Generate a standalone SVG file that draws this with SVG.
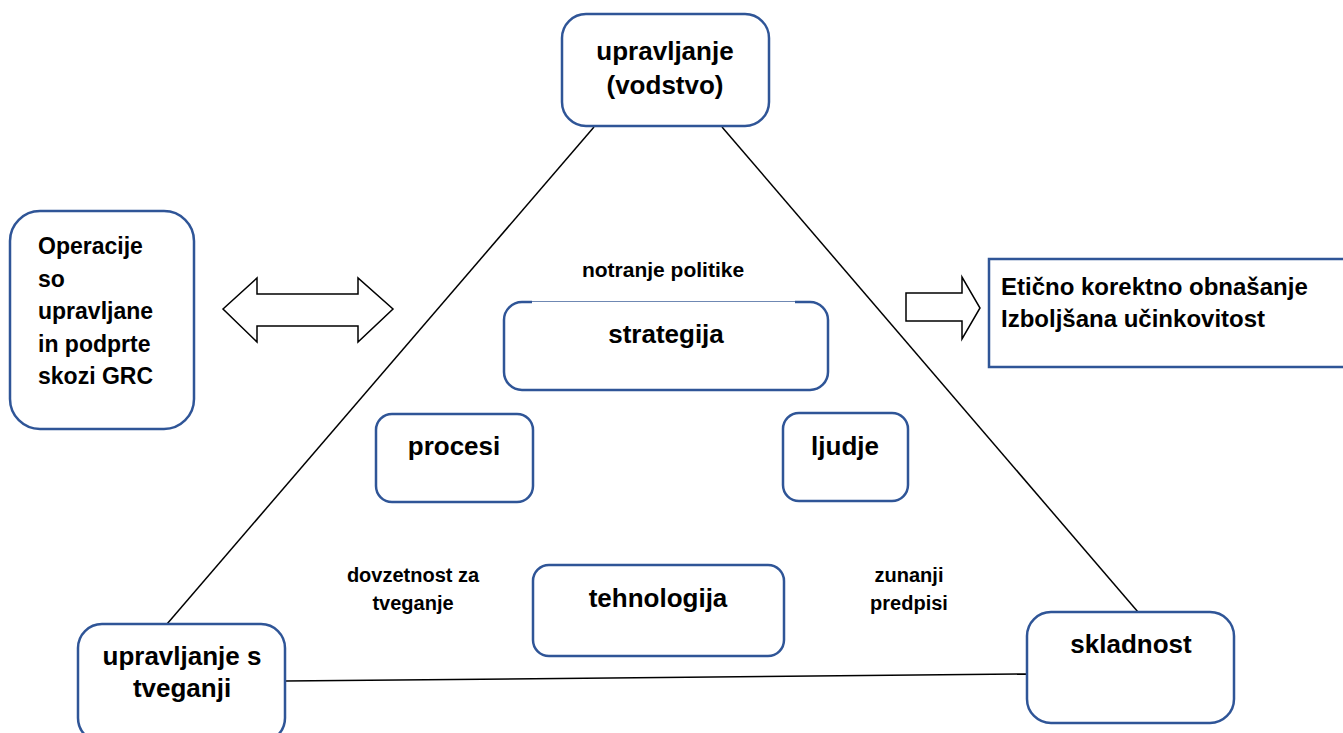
<svg xmlns="http://www.w3.org/2000/svg" width="1343" height="733" viewBox="0 0 1343 733">
<style>
.box{fill:#fff;stroke:#2f5597;stroke-width:2.5}
.ln{stroke:#000;stroke-width:1.5;fill:none}
.arr{fill:#fff;stroke:#000;stroke-width:1.5;stroke-linejoin:miter}
text{font-family:"Liberation Sans",Arial,sans-serif;font-weight:bold;fill:#000}
.n{font-size:26px;text-anchor:middle}
.s{font-size:20px;text-anchor:middle}
.l{font-size:23px}
</style>
<rect width="1343" height="733" fill="#fff"/>
<g id="connectors">
<line class="ln" x1="594" y1="127" x2="167" y2="624"/>
<line class="ln" x1="722" y1="127" x2="1138" y2="612"/>
<line class="ln" x1="285" y1="681" x2="1027" y2="674"/>
<path id="double-arrow" class="arr" d="M223,309 L257,278 L257,294 L358,294 L358,278 L393,309 L358,342 L358,326 L257,326 L257,342 Z"/>
<path id="right-arrow" class="arr" d="M906,293 L962,293 L962,277 L980,308 L962,339 L962,321 L906,321 Z"/>
</g>
<g id="n-upravljanje">
<rect class="box" x="562" y="14" width="207" height="112" rx="24"/>
<text class="n" x="665" y="60">upravljanje</text>
<text class="n" x="665" y="94">(vodstvo)</text>
</g>
<g id="n-operacije">
<rect class="box" x="10" y="211" width="184" height="218" rx="30"/>
<text class="l" x="38" y="254">Operacije</text>
<text class="l" x="38" y="287">so</text>
<text class="l" x="38" y="319">upravljane</text>
<text class="l" x="38" y="352">in podprte</text>
<text class="l" x="38" y="384">skozi GRC</text>
</g>
<g id="n-eticno">
<rect x="989" y="259" width="400" height="108" fill="#fff" stroke="#2f5597" stroke-width="2.5"/>
<text class="l" x="1001" y="295" style="font-size:24px">Etično korektno obnašanje</text>
<text class="l" x="1001" y="327" style="font-size:24px">Izboljšana učinkovitost</text>
</g>
<g id="n-notranje">
<text class="s" x="663" y="277" style="font-size:21px">notranje politike</text>
</g>
<g id="n-strategija">
<rect class="box" x="504" y="302" width="324" height="88" rx="18"/>
<rect x="532" y="299" width="263" height="5" fill="#fff"/>
<line x1="532" y1="301.5" x2="795" y2="301.5" stroke="#6f88b3" stroke-width="1"/>
<text class="n" x="666" y="343">strategija</text>
</g>
<g id="n-procesi">
<rect class="box" x="376" y="414" width="157" height="88" rx="16"/>
<text class="n" x="454" y="455">procesi</text>
</g>
<g id="n-ljudje">
<rect class="box" x="783" y="413" width="125" height="88" rx="16"/>
<text class="n" x="845" y="455">ljudje</text>
</g>
<g id="n-dovzetnost">
<text class="s" x="413" y="582">dovzetnost za</text>
<text class="s" x="413" y="610">tveganje</text>
</g>
<g id="n-tehnologija">
<rect class="box" x="533" y="565" width="251" height="91" rx="16"/>
<text class="n" x="658" y="607">tehnologija</text>
</g>
<g id="n-zunanji">
<text class="s" x="909" y="582">zunanji</text>
<text class="s" x="909" y="610">predpisi</text>
</g>
<g id="n-tveganji">
<rect class="box" x="78" y="624" width="207" height="118" rx="24"/>
<text class="n" x="182" y="665">upravljanje s</text>
<text class="n" x="182" y="697">tveganji</text>
</g>
<g id="n-skladnost">
<rect class="box" x="1027" y="612" width="207" height="111" rx="24"/>
<text class="n" x="1131" y="653">skladnost</text>
</g>
</svg>
